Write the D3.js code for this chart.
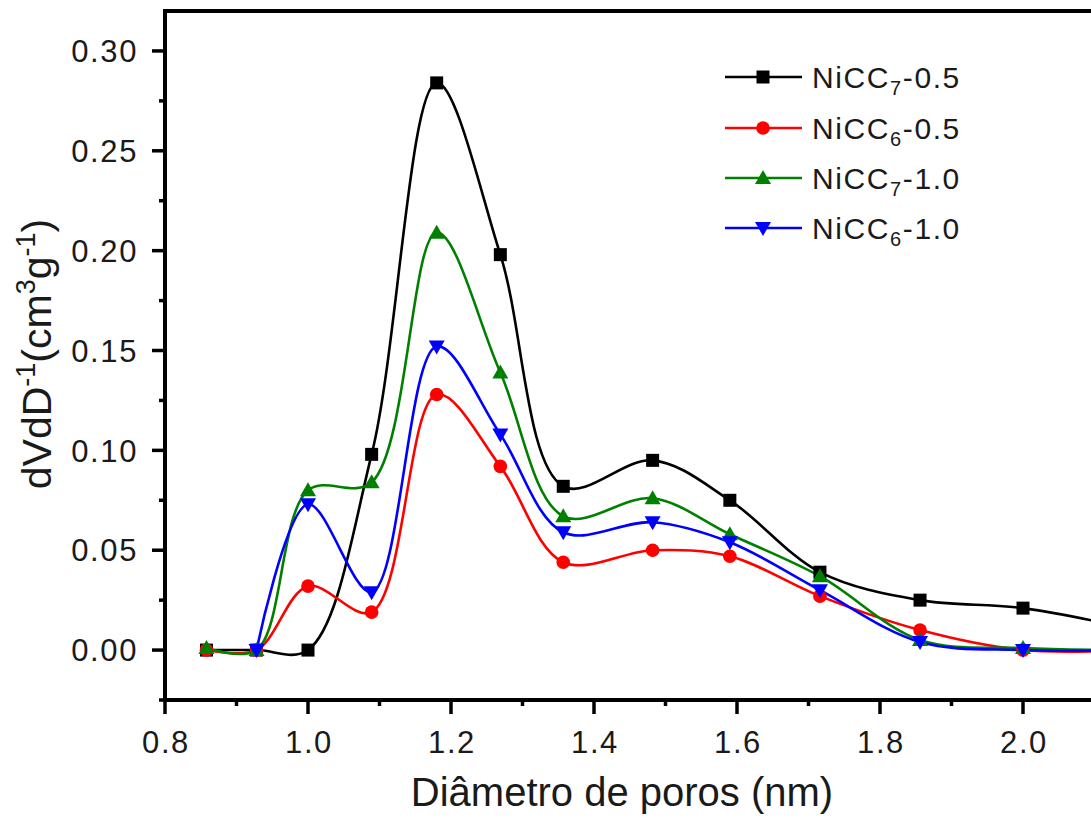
<!DOCTYPE html>
<html>
<head>
<meta charset="utf-8">
<script src="https://cdn.jsdelivr.net/npm/d3@7"></script>
<style>
  html, body { margin: 0; padding: 0; background: #fff; overflow: hidden; }
  svg { display: block; font-family: "Liberation Sans", Arial, sans-serif; }
</style>
</head>
<body>
<svg id="chart" width="1091" height="821"></svg>
<script>
// Pore diameters (nm)
const diameters = [0.858, 0.928, 1.000, 1.089, 1.180, 1.269, 1.357, 1.482, 1.590, 1.716, 1.856, 2.000, 2.160];

// dV/dD (cm3 g-1) per sample
const nicc7_05 = [0.000, 0.000, 0.000, 0.098, 0.284, 0.198, 0.082, 0.095, 0.075, 0.039, 0.025, 0.021, 0.010];
const nicc6_05 = [0.000, 0.000, 0.032, 0.019, 0.128, 0.092, 0.044, 0.050, 0.047, 0.027, 0.010, 0.000, 0.000];
const nicc7_10 = [0.001, 0.000, 0.080, 0.084, 0.209, 0.139, 0.067, 0.076, 0.058, 0.037, 0.005, 0.001, 0.000];
const nicc6_10 = [null,  0.000, 0.073, 0.029, 0.152, 0.108, 0.059, 0.064, 0.054, 0.030, 0.004, 0.000, 0.000];

const seriesNames = ["NiCC7-0.5", "NiCC6-0.5", "NiCC7-1.0", "NiCC6-1.0"];
const seriesBase = ["NiCC", "NiCC", "NiCC", "NiCC"];
const seriesSub = ["7", "6", "7", "6"];
const seriesSuffix = ["-0.5", "-0.5", "-1.0", "-1.0"];
const seriesColors = ["#000000", "#ff0000", "#008000", "#0000ff"];
const seriesMarkers = ["square", "circle", "triangleUp", "triangleDown"];
const seriesValues = [nicc7_05, nicc6_05, nicc7_10, nicc6_10];

const xTicks = [0.8, 1.0, 1.2, 1.4, 1.6, 1.8, 2.0];
const yTicks = [0.00, 0.05, 0.10, 0.15, 0.20, 0.25, 0.30];

const svg = d3.select("#chart");
const plotLeft = 165, plotRight = 1166, plotTop = 11, plotBottom = 700;
const textColor = "#1a1a1a";

const x = d3.scaleLinear().domain([0.8, 2.2]).range([plotLeft, plotRight]);
const y = d3.scaleLinear().domain([-0.025, 0.32]).range([plotBottom, plotTop]);

const plot = svg.append("g");

// series lines (smooth spline through every point)
const line = d3.line()
  .x(d => x(d[0]))
  .y(d => y(d[1]))
  .curve(d3.curveCatmullRom.alpha(0.5));

seriesValues.forEach((vals, i) => {
  const pts = diameters.map((dv, k) => [dv, vals[k]]).filter(p => p[1] !== null);
  plot.append("path")
    .datum(pts)
    .attr("fill", "none")
    .attr("stroke", seriesColors[i])
    .attr("stroke-width", 2.6)
    .attr("stroke-linejoin", "round")
    .attr("d", line);
});

function drawMarker(g, kind, cx, cy, color) {
  if (kind === "square") {
    g.append("rect").attr("x", cx - 6.5).attr("y", cy - 6.5).attr("width", 13).attr("height", 13).attr("fill", color);
  } else if (kind === "circle") {
    g.append("circle").attr("cx", cx).attr("cy", cy).attr("r", 6.8).attr("fill", color);
  } else if (kind === "triangleUp") {
    g.append("path").attr("d", `M${cx},${cy - 8}L${cx + 8},${cy + 6}L${cx - 8},${cy + 6}Z`).attr("fill", color);
  } else {
    g.append("path").attr("d", `M${cx},${cy + 8}L${cx + 8},${cy - 6}L${cx - 8},${cy - 6}Z`).attr("fill", color);
  }
}

seriesValues.forEach((vals, i) => {
  const g = plot.append("g");
  diameters.forEach((dv, k) => {
    if (vals[k] === null) return;
    drawMarker(g, seriesMarkers[i], x(dv), y(vals[k]), seriesColors[i]);
  });
});

// frame and axes
const axisW = 4;
svg.append("line").attr("x1", plotLeft).attr("x2", 1091).attr("y1", plotTop).attr("y2", plotTop)
  .attr("stroke", "#000").attr("stroke-width", axisW);
svg.append("line").attr("x1", plotLeft).attr("x2", plotLeft).attr("y1", plotTop - axisW / 2).attr("y2", plotBottom + axisW / 2)
  .attr("stroke", "#000").attr("stroke-width", axisW);
svg.append("line").attr("x1", plotLeft - axisW / 2).attr("x2", 1091).attr("y1", plotBottom).attr("y2", plotBottom)
  .attr("stroke", "#000").attr("stroke-width", axisW);

// y ticks
const yMinor = d3.range(-0.025, 0.321, 0.05);
yMinor.forEach(v => {
  svg.append("line").attr("x1", plotLeft - 6).attr("x2", plotLeft).attr("y1", y(v)).attr("y2", y(v))
    .attr("stroke", "#000").attr("stroke-width", 3.5);
});
yTicks.forEach(v => {
  svg.append("line").attr("x1", plotLeft - 13).attr("x2", plotLeft).attr("y1", y(v)).attr("y2", y(v))
    .attr("stroke", "#000").attr("stroke-width", 3.5);
  svg.append("text").attr("x", 138).attr("y", y(v)).attr("dy", "0.36em")
    .attr("text-anchor", "end").attr("font-size", 31).attr("letter-spacing", 1.6)
    .attr("fill", textColor).text(d3.format(".2f")(v));
});

// x ticks
const xMinor = d3.range(0.9, 2.15, 0.2);
xMinor.forEach(v => {
  svg.append("line").attr("x1", x(v)).attr("x2", x(v)).attr("y1", plotBottom).attr("y2", plotBottom + 6)
    .attr("stroke", "#000").attr("stroke-width", 3.5);
});
xTicks.forEach(v => {
  svg.append("line").attr("x1", x(v)).attr("x2", x(v)).attr("y1", plotBottom).attr("y2", plotBottom + 14)
    .attr("stroke", "#000").attr("stroke-width", 3.5);
  svg.append("text").attr("x", x(v) + 1).attr("y", 753)
    .attr("text-anchor", "middle").attr("font-size", 31).attr("letter-spacing", 1.6)
    .attr("fill", textColor).text(d3.format(".1f")(v));
});

// axis titles
svg.append("text").attr("x", 622).attr("y", 806).attr("text-anchor", "middle")
  .attr("font-size", 40).attr("fill", textColor).text("Diâmetro de poros (nm)");

const yt = svg.append("text").attr("transform", "translate(51,354) rotate(-90)")
  .attr("text-anchor", "middle").attr("font-size", 41).attr("fill", textColor);
yt.append("tspan").text("dVdD");
yt.append("tspan").attr("font-size", 27).attr("dy", -16).text("-1");
yt.append("tspan").attr("dy", 16).text("(cm");
yt.append("tspan").attr("font-size", 27).attr("dy", -16).text("3");
yt.append("tspan").attr("dy", 16).text("g");
yt.append("tspan").attr("font-size", 27).attr("dy", -16).text("-1");
yt.append("tspan").attr("dy", 16).text(")");

// legend
const legY = [77, 128, 178, 228];
seriesNames.forEach((name, i) => {
  const g = svg.append("g");
  g.append("line").attr("x1", 725).attr("x2", 802).attr("y1", legY[i]).attr("y2", legY[i])
    .attr("stroke", seriesColors[i]).attr("stroke-width", 2.6);
  drawMarker(g, seriesMarkers[i], 763, legY[i], seriesColors[i]);
  const t = g.append("text").attr("x", 812).attr("y", legY[i] + 11)
    .attr("font-size", 30).attr("letter-spacing", 1.6).attr("fill", textColor);
  t.append("tspan").text(seriesBase[i]);
  t.append("tspan").attr("font-size", 20).attr("dy", 7).text(seriesSub[i]);
  t.append("tspan").attr("dy", -7).text(seriesSuffix[i]);
});
</script>
</body>
</html>
